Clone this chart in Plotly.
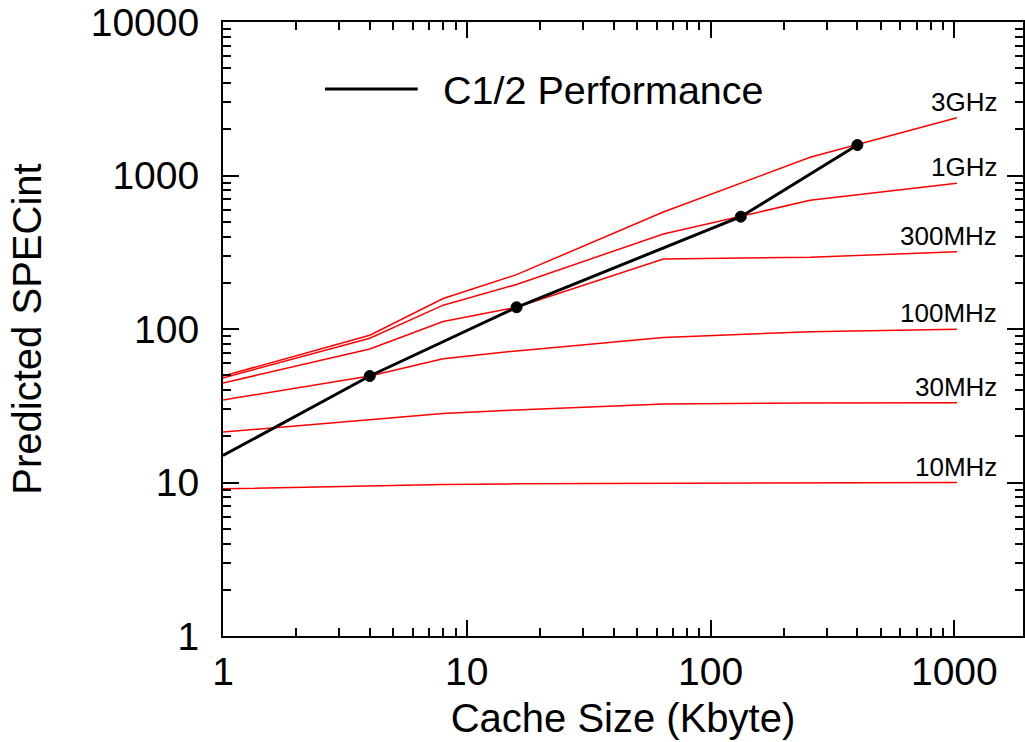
import math
import plotly.graph_objects as go

# Cache sizes (Kbyte) at which performance was evaluated
cache_kb = [1, 4, 8, 16, 64, 256, 1024]

# Predicted SPECint per clock frequency
clock_labels = ["3GHz", "1GHz", "300MHz", "100MHz", "30MHz", "10MHz"]
spec_3ghz = [49.4, 91, 158, 226, 578, 1314, 2380]
spec_1ghz = [48, 87, 143, 195, 416, 689, 890]
spec_300mhz = [44.5, 74, 112, 138.5, 286, 293, 319]
spec_100mhz = [34.5, 49.4, 64, 72, 88, 96, 99.5]
spec_30mhz = [21.3, 25.5, 28.2, 29.7, 32.5, 33, 33.1]
spec_10mhz = [9.1, 9.5, 9.7, 9.8, 9.9, 10, 10]
clock_series = [spec_3ghz, spec_1ghz, spec_300mhz, spec_100mhz, spec_30mhz, spec_10mhz]

# C1/2 performance curve
c_half_kb = [1, 4, 16, 133, 400]
c_half_spec = [15, 49.4, 138.5, 539, 1580]

x_ticks = [1, 10, 100, 1000]
x_tick_text = ["1", "10", "100", "1000"]
y_ticks = [1, 10, 100, 1000, 10000]
y_tick_text = ["1", "10", "100", "1000", "10000"]

FONT = "Liberation Sans, Arial, sans-serif"

fig = go.Figure()

for label, values in zip(clock_labels, clock_series):
    fig.add_trace(go.Scatter(
        x=cache_kb, y=values, mode="lines", name=label,
        line=dict(color="#ff0000", width=1.5),
        showlegend=False, hoverinfo="x+y+name",
    ))
    # Log axes place annotations in log10 units
    fig.add_annotation(
        x=math.log10(cache_kb[-1]), y=math.log10(values[-1]), xref="x", yref="y",
        text=label, showarrow=False,
        xanchor="right", yanchor="bottom", xshift=42, yshift=-1,
        font=dict(family=FONT, size=26, color="black"),
    )

fig.add_trace(go.Scatter(
    x=c_half_kb, y=c_half_spec, mode="lines", name="C1/2 Performance",
    line=dict(color="black", width=3),
    showlegend=False,
))
# Operating points on the C1/2 curve (all but the starting point)
fig.add_trace(go.Scatter(
    x=c_half_kb[1:], y=c_half_spec[1:], mode="markers", name="C1/2 points",
    marker=dict(color="#000000", size=11, opacity=1, symbol="circle",
                line=dict(color="#000000", width=1)),
    showlegend=False,
))

# Legend entry for the C1/2 curve
fig.add_shape(
    type="line", xref="paper", yref="paper",
    x0=(325 - 222.7) / 802.3, x1=(418 - 222.7) / 802.3,
    y0=(636 - 89) / 614, y1=(636 - 89) / 614,
    line=dict(color="black", width=3),
)
fig.add_annotation(
    xref="paper", yref="paper",
    x=(441 - 222.7) / 802.3, y=(636 - 90) / 614,
    text="C1/2 Performance", showarrow=False,
    xanchor="left", yanchor="middle",
    font=dict(family=FONT, size=39.5, color="black"),
)

axis_common = dict(
    type="log",
    showgrid=False, zeroline=False,
    showline=True, linecolor="black", linewidth=2,
    mirror="allticks",
    ticks="inside", ticklen=16, tickwidth=1.5, tickcolor="black",
    tickfont=dict(family=FONT, size=39, color="black"),
    minor=dict(ticks="inside", ticklen=8, tickwidth=1.5, tickcolor="black",
               dtick="D1", showgrid=False),
)

fig.update_xaxes(
    **axis_common,
    range=[0, 3.2815],
    tickvals=x_ticks, ticktext=x_tick_text,
    title=dict(text="Cache Size (Kbyte)", font=dict(family=FONT, size=40, color="black"), standoff=12),
)
fig.update_yaxes(
    **axis_common,
    range=[0, 4],
    tickvals=y_ticks, ticktext=y_tick_text,
    ticklabelstandoff=14,
    title=dict(text="Predicted SPECint", font=dict(family=FONT, size=40, color="black"), standoff=37),
)

fig.update_layout(
    width=1025, height=742,
    margin=dict(l=223, r=0, t=22, b=106),
    paper_bgcolor="white", plot_bgcolor="white",
    font=dict(family=FONT, color="black"),
)

fig.write_html("out.html")
